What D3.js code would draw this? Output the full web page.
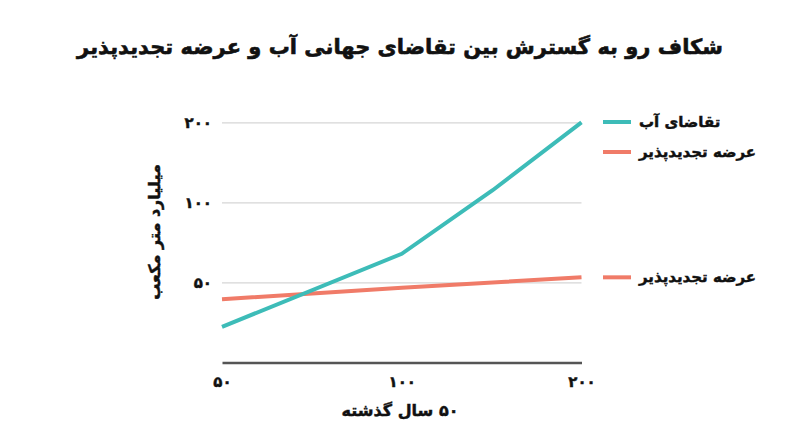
<!DOCTYPE html>
<html>
<head>
<meta charset="utf-8">
<script src="https://cdn.jsdelivr.net/npm/d3@7"></script>
<style>
  body { margin: 0; background: #fff; }
  text { font-family: "DejaVu Sans", sans-serif; font-weight: bold; fill: #111; stroke: #111; stroke-width: 0.45px; }
</style>
</head>
<body>
<script>
// data (log scales on both axes)
var years = [50, 100, 142, 200];
var demand = [34, 64, 111, 200];
var supplyYears = [50, 100, 200];
var supply = [43.2, 47.7, 52.2];
var xTicks = [50, 100, 200];
var yTicks = [50, 100, 200];

var title = "شکاف رو به گسترش بین تقاضای جهانی آب و عرضه تجدیدپذیر";
var demandName = "تقاضای آب";
var supplyName = "عرضه تجدیدپذیر";
var yTitle = "میلیارد متر مکعب";
var xTitle = "۵۰ سال گذشته";

var teal = "#3dbcb8", salmon = "#f07b68";

function fa(n) {
  return String(n).replace(/[0-9]/g, function(c) { return "۰۱۲۳۴۵۶۷۸۹"[+c]; });
}

var svg = d3.select("body").append("svg")
    .attr("width", 800)
    .attr("height", 447);

var x = d3.scaleLog().base(2).domain([50, 200]).range([222, 581.5]);
var y = d3.scaleLog().base(2).domain([50, 200]).range([282.3, 122.3]);

svg.append("text")
    .attr("x", 400)
    .attr("y", 54)
    .attr("direction", "rtl")
    .attr("text-anchor", "middle")
    .attr("font-size", "21px")
    .style("stroke-width", "0.6px")
    .text(title);

// gridlines + y labels
var yAxis = svg.append("g")
    .attr("transform", "translate(222,0)")
    .call(d3.axisLeft(y).tickValues(yTicks).tickFormat(fa).tickSize(-(581.5 - 222)).tickPadding(10));
yAxis.select(".domain").remove();
yAxis.selectAll(".tick line").attr("stroke", "#d6d6d6").attr("stroke-width", 1.2);
yAxis.selectAll(".tick text")
    .attr("font-size", "15px")
    .attr("font-family", "DejaVu Sans")
    .attr("font-weight", "bold")
    .attr("fill", "#111");

// x axis
var xAxis = svg.append("g")
    .attr("transform", "translate(0,362.5)")
    .call(d3.axisBottom(x).tickValues(xTicks).tickFormat(fa).tickSize(0).tickPadding(14));
xAxis.select(".domain").attr("stroke", "#555").attr("stroke-width", 2.5);
xAxis.selectAll(".tick text")
    .attr("font-size", "15px")
    .attr("font-family", "DejaVu Sans")
    .attr("font-weight", "bold")
    .attr("fill", "#111");

svg.append("text")
    .attr("x", 400)
    .attr("y", 416)
    .attr("direction", "rtl")
    .attr("text-anchor", "middle")
    .attr("font-size", "16px")
    .text(xTitle);

svg.append("text")
    .attr("transform", "translate(160,232) rotate(-90)")
    .attr("direction", "rtl")
    .attr("text-anchor", "middle")
    .attr("font-size", "16px")
    .text(yTitle);

var line = d3.line()
    .x(function(d) { return x(d[0]); })
    .y(function(d) { return y(d[1]); });

svg.append("path")
    .datum(d3.zip(supplyYears, supply))
    .attr("d", line)
    .attr("fill", "none")
    .attr("stroke", salmon)
    .attr("stroke-width", 4);

svg.append("path")
    .datum(d3.zip(years, demand))
    .attr("d", line)
    .attr("fill", "none")
    .attr("stroke", teal)
    .attr("stroke-width", 4);

// legend
var legend = [
  { name: demandName, color: teal, y: 122 },
  { name: supplyName, color: salmon, y: 152 },
  { name: supplyName, color: salmon, y: y(supply[supply.length - 1]) }
];

var lg = svg.selectAll(".lg").data(legend).enter().append("g").attr("class", "lg");
lg.append("line")
    .attr("x1", 603).attr("x2", 631)
    .attr("y1", function(d) { return d.y; })
    .attr("y2", function(d) { return d.y; })
    .attr("stroke", function(d) { return d.color; })
    .attr("stroke-width", 4);
lg.append("text")
    .attr("x", 639)
    .attr("y", function(d) { return d.y + 5; })
    .attr("direction", "rtl")
    .attr("text-anchor", "end")
    .attr("font-size", "15px")
    .text(function(d) { return d.name; });
</script>
</body>
</html>
